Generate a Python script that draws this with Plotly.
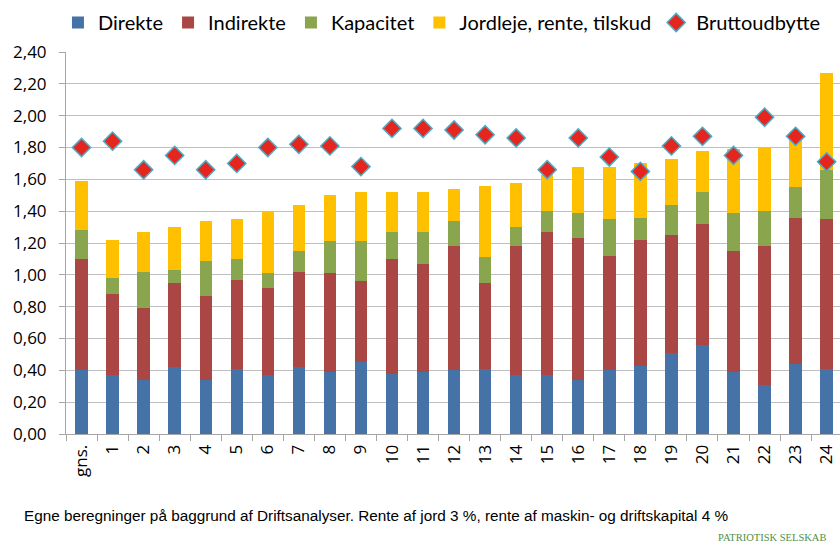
import plotly.graph_objects as go

categories = ["gns.", "1", "2", "3", "4", "5", "6", "7", "8", "9", "10", "11", "12",
              "13", "14", "15", "16", "17", "18", "19", "20", "21", "22", "23", "24"]
direkte = [0.40, 0.37, 0.34, 0.42, 0.34, 0.41, 0.37, 0.42, 0.39, 0.45, 0.38, 0.39, 0.40,
           0.41, 0.37, 0.37, 0.34, 0.40, 0.43, 0.51, 0.56, 0.39, 0.31, 0.44, 0.41]
indirekte = [0.70, 0.51, 0.45, 0.53, 0.53, 0.56, 0.55, 0.60, 0.62, 0.51, 0.72, 0.68, 0.78,
             0.54, 0.81, 0.90, 0.89, 0.72, 0.79, 0.74, 0.76, 0.76, 0.87, 0.92, 0.94]
kapacitet = [0.18, 0.10, 0.23, 0.08, 0.22, 0.13, 0.09, 0.13, 0.20, 0.25, 0.17, 0.20, 0.16,
             0.16, 0.12, 0.13, 0.16, 0.23, 0.14, 0.19, 0.20, 0.24, 0.22, 0.19, 0.31]
jordleje = [0.31, 0.24, 0.25, 0.27, 0.25, 0.25, 0.39, 0.29, 0.29, 0.31, 0.25, 0.25, 0.20,
            0.45, 0.28, 0.23, 0.29, 0.33, 0.34, 0.29, 0.26, 0.40, 0.40, 0.35, 0.61]
bruttoudbytte = [1.80, 1.84, 1.66, 1.75, 1.66, 1.70, 1.80, 1.82, 1.81, 1.68, 1.92, 1.92, 1.91,
                 1.88, 1.86, 1.66, 1.86, 1.74, 1.65, 1.81, 1.87, 1.75, 1.99, 1.87, 1.71]
y_ticks = [0.0, 0.2, 0.4, 0.6, 0.8, 1.0, 1.2, 1.4, 1.6, 1.8, 2.0, 2.2, 2.4]

LEG_FONT = "Lato"
TICK_FONT = "Open Sans"
L, T, B = 66, 52, 111
PW, PH = 840 - L, 545 - T - B

fig = go.Figure()
for name, vals, col in [("Direkte", direkte, "#4572A7"),
                        ("Indirekte", indirekte, "#AA4643"),
                        ("Kapacitet", kapacitet, "#89A54E"),
                        ("Jordleje, rente, tilskud", jordleje, "#FFC000")]:
    fig.add_trace(go.Bar(x=categories, y=vals, name=name, marker_color=col,
                         marker_line_width=0, width=0.4))
fig.add_trace(go.Scatter(x=categories, y=bruttoudbytte, name="Bruttoudbytte", mode="markers",
                         marker=dict(symbol="diamond", size=14, color="#E5261F",
                                     line=dict(color="#4BACC6", width=1.5))))

fig.update_layout(
    width=840, height=545,
    barmode="stack", separators=",.",
    paper_bgcolor="white", plot_bgcolor="white",
    margin=dict(l=L, r=0, t=T, b=B, autoexpand=False),
    font=dict(family=LEG_FONT, size=18, color="black"),
    legend=dict(orientation="h", xref="container", yref="container", x=0.069, y=0.9945,
                xanchor="left", yanchor="top", font=dict(size=20, family=LEG_FONT),
                itemwidth=30, traceorder="normal", tracegroupgap=0,
                bgcolor="rgba(0,0,0,0)"),
    xaxis=dict(type="category", range=[-0.5, 24.43], ticks="outside", tickson="boundaries",
               ticklen=6, tickcolor="#A6A6A6", showline=True, linecolor="#A6A6A6",
               tickangle=-90, tickfont=dict(size=17, family=TICK_FONT), showgrid=False,
               automargin=False, ticklabelstandoff=3),
    yaxis=dict(range=[0, 2.4], tickvals=y_ticks, tickformat=".2f", ticks="outside",
               ticklen=6, tickcolor="#A6A6A6", showline=True, linecolor="#A6A6A6",
               gridcolor="#BFBFBF", gridwidth=1, zeroline=False, automargin=False,
               ticklabelstandoff=9, tickfont=dict(size=17, family=TICK_FONT)),
)
fig.add_annotation(text="Egne beregninger på baggrund af Driftsanalyser. Rente af jord 3 %, "
                        "rente af maskin- og driftskapital 4 %",
                   xref="paper", yref="paper", x=(22 - L) / PW, y=(434 - 515) / PH,
                   xanchor="left", yanchor="middle", showarrow=False,
                   font=dict(family="Liberation Sans", size=15.3, color="black"))
fig.add_annotation(text="PATRIOTISK SELSKAB", xref="paper", yref="paper",
                   x=(716 - L) / PW, y=(434 - 537) / PH, xanchor="left", yanchor="middle",
                   showarrow=False,
                   font=dict(family="Liberation Serif", size=10.5, color="#4E8F4A"))
fig.write_html("out.html", config={"displayModeBar": False},
               post_script="document.body.style.margin='0';document.body.style.padding='0';")
